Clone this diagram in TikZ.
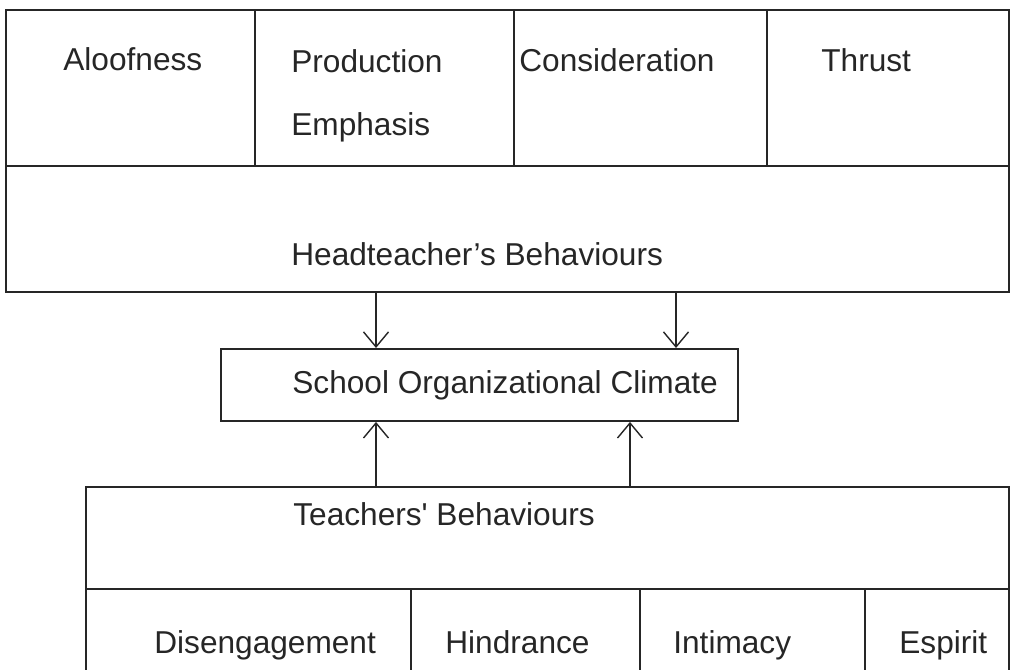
\documentclass[tikz,border=0pt]{standalone}
\usepackage{fontspec}
\setmainfont{Liberation Sans}
\usepackage{tikz}
\usetikzlibrary{arrows.meta}

\begin{document}
\begin{tikzpicture}[%
% common options for the boxes:
cell/.style = {draw=black!85, line width=1.1pt, rectangle, anchor=north west,
            inner sep=0},
% common options for the texts:
lbl/.style = {anchor=base west, inner sep=0, text=black!85,
            font=\fontsize{18}{21.6}\selectfont},
% common options for the arrows:
arr/.style = {draw=black!85, line width=0.8pt,
            -{Straight Barb[length=0.3cm, width=0.5cm, line width=0.8pt]}}]
\clip (0,0) rectangle (20.2,-13.4);
% headteacher
\node[cell, minimum width=4.98cm, minimum height=3.12cm] (A1) at (0.10,-0.18) {};
\node[cell, minimum width=5.18cm, minimum height=3.12cm] (A2) at (5.08,-0.18) {};
\node[cell, minimum width=5.06cm, minimum height=3.12cm] (A3) at (10.26,-0.18) {};
\node[cell, minimum width=4.84cm, minimum height=3.12cm] (A4) at (15.32,-0.18) {};
\node[cell, minimum width=20.06cm, minimum height=2.52cm] (A0) at (0.10,-3.30) {};
\node[lbl] (A1t) at (1.26,-1.42) {Aloofness};
\node[lbl, align=left] (A2t) at (5.82,-2.72) {Production\\[0.52cm]Emphasis};
\node[lbl] (A3t) at (10.38,-1.44) {Consideration};
\node[lbl] (A4t) at (16.42,-1.44) {Thrust};
\node[lbl] (A0t) at (5.82,-5.32) {Headteacher’s Behaviours};
% climate
\node[cell, minimum width=10.34cm, minimum height=1.44cm] (C) at (4.40,-6.96) {};
\node[lbl] (Ct) at (5.84,-7.86) {School Organizational Climate};
% teachers
\node[cell, minimum width=18.46cm, minimum height=2.04cm] (B0) at (1.70,-9.72) {};
\node[cell, minimum width=6.50cm, minimum height=1.84cm] (B1) at (1.70,-11.76) {};
\node[cell, minimum width=4.58cm, minimum height=1.84cm] (B2) at (8.20,-11.76) {};
\node[cell, minimum width=4.50cm, minimum height=1.84cm] (B3) at (12.78,-11.76) {};
\node[cell, minimum width=2.88cm, minimum height=1.84cm] (B4) at (17.28,-11.76) {};
\node[lbl] (B0t) at (5.86,-10.50) {Teachers\textquotesingle\ Behaviours};
\node[lbl] (B1t) at (3.08,-13.06) {Disengagement};
\node[lbl] (B2t) at (8.90,-13.06) {Hindrance};
\node[lbl] (B3t) at (13.46,-13.06) {Intimacy};
\node[lbl] (B4t) at (17.98,-13.06) {Espirit};
\draw[arr] (A0.south -| 7.52,0) to (C.north -| 7.52,0);
\draw[arr] (A0.south -| 13.52,0) to (C.north -| 13.52,0);
\draw[arr] (B0.north -| 7.52,0) to (C.south -| 7.52,0);
\draw[arr] (B0.north -| 12.60,0) to (C.south -| 12.60,0);
\end{tikzpicture}
\end{document}
